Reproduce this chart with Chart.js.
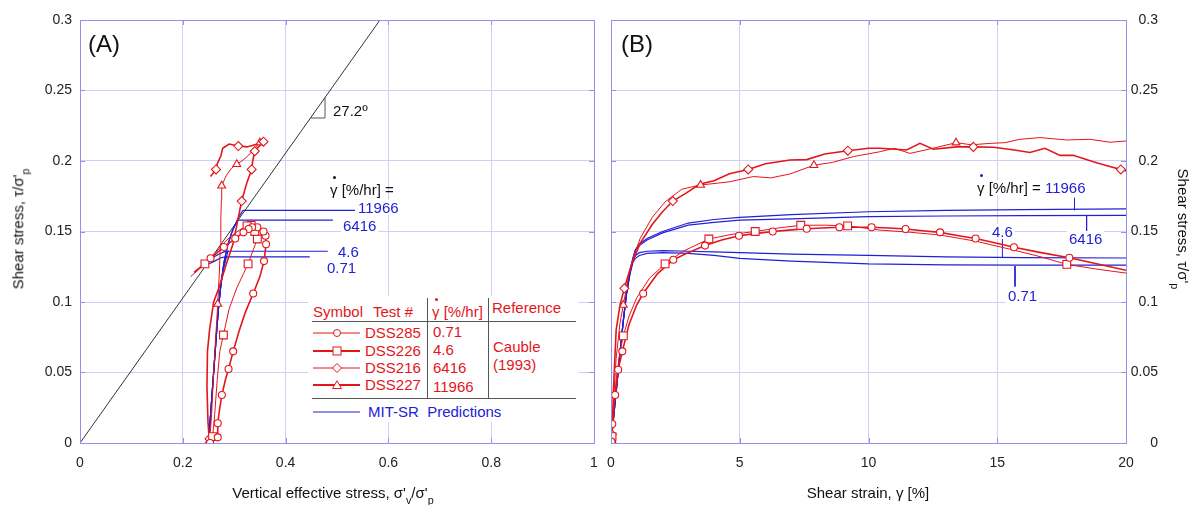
<!DOCTYPE html>
<html>
<head>
<meta charset="utf-8">
<script src="https://cdn.jsdelivr.net/npm/chart.js@4.4.1/dist/chart.umd.min.js"></script>
<style>
body{margin:0;background:#fff;width:1192px;height:505px;overflow:hidden;position:relative;font-family:"Liberation Sans",Arial,sans-serif;}
.box{position:absolute;top:0;height:505px;}
.t{position:absolute;white-space:nowrap;font-size:15px;line-height:15px;}
.w{background:#fff;padding:0 2px;}
.red{color:#e3161c}
.blue{color:#2121d4}
.blk{color:#111}
.gd{position:relative;display:inline-block;}
.gd i{position:absolute;left:50%;margin-left:-1px;top:-6px;width:3px;height:3px;border-radius:50%;}
sub{font-size:0.72em;vertical-align:-0.6em;line-height:0;}
.ttl{position:absolute;white-space:nowrap;font-size:15px;line-height:15px;color:#111;}
.hl{position:absolute;height:1px;background:#555;}
.vl{position:absolute;width:1px;background:#555;}
#legend{position:absolute;left:308px;top:296px;width:270px;height:126px;background:#fff;}
#legend svg{position:absolute;left:5px;}
</style>
</head>
<body>
<div class="box" style="left:0;width:602px"><canvas id="chartA" width="602" height="505"></canvas></div>
<div class="box" style="left:602px;width:590px"><canvas id="chartB" width="590" height="505"></canvas></div>

<!-- panel A annotations -->
<div class="t blk" style="left:88px;top:32px;font-size:24px;line-height:24px">(A)</div>
<div class="t blk" style="left:333px;top:103px">27.2º</div>
<div class="t blk" style="left:330px;top:182px"><span class="gd">γ<i style="background:#111"></i></span> [%/hr] =</div>
<div class="t blue w" style="left:356px;top:200px">11966</div>
<div class="t blue w" style="left:341px;top:218px">6416</div>
<div class="t blue w" style="left:336px;top:244px">4.6</div>
<div class="t blue w" style="left:325px;top:260px">0.71</div>

<div id="legend">
  <div class="hl" style="left:4px;top:25px;width:264px"></div>
  <div class="hl" style="left:4px;top:102px;width:264px"></div>
  <div class="vl" style="left:119px;top:2px;height:100px"></div>
  <div class="vl" style="left:180px;top:2px;height:100px"></div>
  <div class="t red" style="left:5px;top:8px">Symbol</div>
  <div class="t red" style="left:65px;top:8px">Test #</div>
  <div class="t red" style="left:124px;top:8px"><span class="gd">γ<i style="background:#e3161c"></i></span> [%/hr]</div>
  <div class="t red" style="left:184px;top:4px">Reference</div>
  <svg width="50" height="10" style="top:32px"><line x1="0" y1="5" x2="47" y2="5" stroke="#e3161c" stroke-width="1"/><circle cx="24" cy="5" r="3.5" fill="#fff" stroke="#e3161c"/></svg>
  <svg width="50" height="10" style="top:50px"><line x1="0" y1="5" x2="47" y2="5" stroke="#e3161c" stroke-width="1.8"/><rect x="20" y="1" width="8" height="8" fill="#fff" stroke="#e3161c"/></svg>
  <svg width="50" height="10" style="top:67px"><line x1="0" y1="5" x2="47" y2="5" stroke="#e3161c" stroke-width="1"/><polygon points="24,0.5 28.5,5 24,9.5 19.5,5" fill="#fff" stroke="#e3161c"/></svg>
  <svg width="50" height="10" style="top:84px"><line x1="0" y1="5" x2="47" y2="5" stroke="#e3161c" stroke-width="1.8"/><polygon points="24,0.8 28.5,8.5 19.5,8.5" fill="#fff" stroke="#e3161c"/></svg>
  <div class="t red" style="left:57px;top:29px">DSS285</div>
  <div class="t red" style="left:57px;top:47px">DSS226</div>
  <div class="t red" style="left:57px;top:64px">DSS216</div>
  <div class="t red" style="left:57px;top:81px">DSS227</div>
  <div class="t red" style="left:125px;top:28px">0.71</div>
  <div class="t red" style="left:125px;top:46px">4.6</div>
  <div class="t red" style="left:125px;top:64px">6416</div>
  <div class="t red" style="left:125px;top:83px">11966</div>
  <div class="t red" style="left:185px;top:43px">Cauble</div>
  <div class="t red" style="left:185px;top:61px">(1993)</div>
  <svg width="50" height="10" style="top:111px"><line x1="0" y1="5" x2="47" y2="5" stroke="#2121d4" stroke-width="1.2"/></svg>
  <div class="t blue" style="left:60px;top:108px">MIT-SR&nbsp; Predictions</div>
</div>

<!-- panel B annotations -->
<div class="t blk" style="left:621px;top:32px;font-size:24px;line-height:24px">(B)</div>
<div class="t blk w" style="left:975px;top:180px"><span class="gd">γ<i style="background:#2121d4"></i></span> [%/hr] = <span class="blue">11966</span></div>
<div class="t blue w" style="left:1067px;top:231px">6416</div>
<div class="t blue w" style="left:990px;top:224px">4.6</div>
<div class="t blue w" style="left:1006px;top:288px">0.71</div>

<!-- axis titles -->
<div class="ttl" style="left:333px;top:485px;transform:translateX(-50%)">Vertical effective stress, σ'<sub>v</sub>/σ'<sub>p</sub></div>
<div class="ttl" style="left:868px;top:485px;transform:translateX(-50%)">Shear strain, γ [%]</div>
<div class="ttl" style="left:18px;top:229px;transform:translate(-50%,-50%) rotate(-90deg)">Shear stress, τ/σ'<sub>p</sub></div>
<div class="ttl" style="left:1183px;top:229px;transform:translate(-50%,-50%) rotate(90deg)">Shear stress, τ/σ'<sub>p</sub></div>

<script>
// tick values
var xTicksA = [0, 0.2, 0.4, 0.6, 0.8, 1];
var xTicksB = [0, 5, 10, 15, 20];
var yTicks = [0, 0.05, 0.1, 0.15, 0.2, 0.25, 0.3];

// ---------- panel A: stress paths (x = sigma'v/sigma'p, y = tau/sigma'p)
var failX = [0, 0.5836];
var failY = [0, 0.3];
var angleX = [0.4484, 0.4767, 0.4767];
var angleY = [0.2305, 0.2305, 0.245];

// DSS285, circles
var x285A = [0.253, 0.262, 0.268, 0.268, 0.272, 0.276, 0.283, 0.289, 0.298, 0.31, 0.322, 0.337, 0.35, 0.358, 0.362, 0.361, 0.357, 0.352, 0.345, 0.335, 0.328, 0.318, 0.302, 0.28, 0.254, 0.235, 0.222];
var y285A = [0, 0.002, 0.004, 0.014, 0.025, 0.034, 0.045, 0.0525, 0.065, 0.08, 0.093, 0.106, 0.118, 0.129, 0.141, 0.147, 0.15, 0.152, 0.153, 0.153, 0.1518, 0.1494, 0.145, 0.139, 0.131, 0.125, 0.121];
var m285Ax = [0.253, 0.268, 0.268, 0.276, 0.289, 0.298, 0.337, 0.358, 0.362, 0.361, 0.357, 0.345, 0.335, 0.328, 0.318, 0.302, 0.28, 0.254];
var m285Ay = [0, 0.004, 0.014, 0.034, 0.0525, 0.065, 0.106, 0.129, 0.141, 0.147, 0.15, 0.153, 0.153, 0.1518, 0.1494, 0.145, 0.139, 0.131];
// DSS226, squares
var x226A = [0.255, 0.258, 0.262, 0.267, 0.272, 0.279, 0.29, 0.305, 0.318, 0.327, 0.337, 0.345, 0.347, 0.34, 0.333, 0.325, 0.31, 0.295, 0.28, 0.262, 0.243, 0.228, 0.215];
var y226A = [0, 0.0045, 0.02, 0.045, 0.065, 0.0766, 0.095, 0.11, 0.12, 0.127, 0.137, 0.1447, 0.148, 0.15, 0.1544, 0.154, 0.151, 0.147, 0.142, 0.134, 0.127, 0.122, 0.118];
var m226Ax = [0.258, 0.279, 0.327, 0.345, 0.34, 0.333, 0.325, 0.243];
var m226Ay = [0.0045, 0.0766, 0.127, 0.1447, 0.15, 0.1544, 0.154, 0.127];
// DSS216, diamonds
var x216A = [0.252, 0.249, 0.247, 0.248, 0.252, 0.26, 0.27, 0.283, 0.298, 0.3145, 0.325, 0.334, 0.336, 0.34, 0.35, 0.357, 0.345, 0.325, 0.308, 0.29, 0.2775, 0.274, 0.267, 0.2646, 0.254];
var y216A = [0, 0.015, 0.04, 0.065, 0.08, 0.1, 0.1097, 0.125, 0.1416, 0.1716, 0.185, 0.194, 0.2, 0.207, 0.211, 0.2137, 0.212, 0.21, 0.2106, 0.212, 0.209, 0.2035, 0.198, 0.194, 0.189];
var m216Ax = [0.252, 0.3145, 0.334, 0.34, 0.357, 0.308, 0.2646];
var m216Ay = [0.003, 0.1716, 0.194, 0.207, 0.2137, 0.2106, 0.194];
// DSS227, triangles
var x227A = [0.252, 0.256, 0.26, 0.264, 0.268, 0.271, 0.273, 0.274, 0.275, 0.2757, 0.285, 0.295, 0.305, 0.315, 0.325, 0.335, 0.345, 0.35, 0.355];
var y227A = [0, 0.02, 0.05, 0.075, 0.0986, 0.12, 0.14, 0.16, 0.172, 0.1825, 0.19, 0.195, 0.1977, 0.2, 0.203, 0.207, 0.211, 0.213, 0.2142];
var m227Ax = [0.252, 0.268, 0.2757, 0.305, 0.35];
var m227Ay = [0.002, 0.0986, 0.1825, 0.1977, 0.213];

// MIT-SR predictions, panel A
var p11966Ax = [0.25, 0.254, 0.258, 0.262, 0.266, 0.27, 0.274, 0.28, 0.288, 0.297, 0.307, 0.317];
var p11966Ay = [0, 0.02, 0.04, 0.06, 0.08, 0.098, 0.112, 0.128, 0.141, 0.151, 0.159, 0.165];
var p6416Ax = [0.25, 0.254, 0.258, 0.262, 0.266, 0.27, 0.274, 0.28, 0.287, 0.294, 0.301, 0.307];
var p6416Ay = [0, 0.02, 0.04, 0.06, 0.08, 0.098, 0.112, 0.128, 0.14, 0.148, 0.154, 0.158];
var p46Ax = [0.25, 0.254, 0.258, 0.262, 0.266, 0.27, 0.274, 0.279, 0.284, 0.288, 0.28, 0.268, 0.256];
var p46Ay = [0, 0.02, 0.04, 0.06, 0.08, 0.098, 0.112, 0.124, 0.131, 0.136, 0.1355, 0.1335, 0.131];
var p071Ax = [0.25, 0.254, 0.258, 0.262, 0.266, 0.27, 0.274, 0.278, 0.282, 0.284, 0.275, 0.262, 0.25, 0.244];
var p071Ay = [0, 0.02, 0.04, 0.06, 0.08, 0.098, 0.112, 0.122, 0.128, 0.132, 0.1315, 0.129, 0.127, 0.1262];
// label leaders, panel A
var lead11966Ax = [0.317, 0.535], lead11966Ay = [0.165, 0.165];
var lead6416Ax = [0.307, 0.492], lead6416Ay = [0.158, 0.158];
var lead46Ax = [0.288, 0.482], lead46Ay = [0.136, 0.136];
var lead071Ax = [0.284, 0.447], lead071Ay = [0.132, 0.132];

// ---------- panel B: shear strain [%] vs tau/sigma'p
var x285B = [0, 0.03, 0.05, 0.1, 0.16, 0.28, 0.44, 0.7, 1.0, 1.25, 1.8, 2.42, 3.0, 3.65, 4.3, 4.97, 5.6, 6.28, 6.9, 7.6, 8.2, 8.87, 9.5, 10.12, 10.8, 11.44, 12.1, 12.78, 13.5, 14.16, 14.9, 15.65, 16.7, 17.8, 18.9, 20.0];
var y285B = [0, 0.002, 0.0135, 0.025, 0.034, 0.052, 0.065, 0.084, 0.098, 0.106, 0.12, 0.13, 0.135, 0.14, 0.144, 0.147, 0.1485, 0.15, 0.151, 0.152, 0.1525, 0.153, 0.153, 0.153, 0.1525, 0.1518, 0.1505, 0.1494, 0.147, 0.145, 0.142, 0.1388, 0.135, 0.1314, 0.127, 0.1225];
var m285Bx = [0.02, 0.05, 0.16, 0.28, 0.44, 1.25, 2.42, 3.65, 4.97, 6.28, 7.6, 8.87, 10.12, 11.44, 12.78, 14.16, 15.65, 17.8];
var m285By = [0.001, 0.0135, 0.034, 0.052, 0.065, 0.106, 0.13, 0.14, 0.147, 0.15, 0.152, 0.153, 0.153, 0.1518, 0.1494, 0.145, 0.1388, 0.1314];
var x226B = [0, 0.04, 0.1, 0.2, 0.35, 0.48, 0.7, 1.0, 1.5, 2.1, 2.8, 3.8, 4.7, 5.6, 6.5, 7.37, 8.3, 9.19, 10.45, 11.6, 12.78, 14.2, 15.6, 16.7, 17.7, 18.8, 20.0];
var y226B = [0, 0.0045, 0.02, 0.045, 0.065, 0.076, 0.09, 0.103, 0.117, 0.127, 0.136, 0.1447, 0.148, 0.15, 0.1525, 0.1544, 0.1545, 0.154, 0.151, 0.1495, 0.1475, 0.143, 0.137, 0.132, 0.1267, 0.1235, 0.1205];
var m226Bx = [0.02, 0.04, 0.48, 2.1, 3.8, 5.6, 7.37, 9.19, 17.7];
var m226By = [0.001, 0.0045, 0.076, 0.127, 0.1447, 0.15, 0.1544, 0.154, 0.1267];
var x216B = [0, 0.04, 0.1, 0.2, 0.35, 0.52, 0.8, 1.13, 1.6, 2.0, 2.4, 2.9, 3.46, 4.0, 4.6, 5.33, 6.0, 6.95, 7.6, 8.3, 9.2, 10.0, 10.45, 11.48, 12.0, 12.52, 13.42, 14.07, 14.85, 15.6, 16.27, 16.85, 17.44, 17.95, 18.73, 19.3, 20.0];
var y216B = [0, 0.003, 0.04, 0.08, 0.098, 0.1097, 0.127, 0.1416, 0.155, 0.164, 0.1716, 0.177, 0.1837, 0.186, 0.191, 0.194, 0.198, 0.2007, 0.201, 0.205, 0.2073, 0.209, 0.209, 0.2078, 0.2125, 0.2083, 0.21, 0.21, 0.2097, 0.208, 0.206, 0.209, 0.204, 0.204, 0.1995, 0.1965, 0.193];
var m216Bx = [0.03, 0.52, 2.4, 5.33, 9.2, 14.07, 19.8];
var m216By = [0.006, 0.1097, 0.1716, 0.194, 0.2073, 0.21, 0.194];
var x227B = [0, 0.04, 0.1, 0.2, 0.35, 0.48, 0.7, 0.9, 1.13, 1.6, 2.1, 2.75, 3.48, 4.0, 4.62, 5.53, 6.2, 6.95, 7.88, 8.6, 9.41, 10.45, 11.0, 11.61, 12.5, 13.4, 14.0, 14.72, 15.3, 15.88, 16.66, 17.7, 18.6, 19.38, 20.0];
var y227B = [0, 0.003, 0.03, 0.06, 0.085, 0.0979, 0.12, 0.133, 0.145, 0.16, 0.171, 0.18, 0.183, 0.184, 0.1853, 0.189, 0.188, 0.1908, 0.197, 0.199, 0.2031, 0.2066, 0.209, 0.2054, 0.209, 0.213, 0.2115, 0.2125, 0.213, 0.2154, 0.2166, 0.2149, 0.2154, 0.2133, 0.2142];
var m227Bx = [0.03, 0.48, 3.48, 7.88, 13.4];
var m227By = [0.002, 0.0979, 0.183, 0.197, 0.213];

// MIT-SR predictions, panel B (shared strain values)
var pxB = [0, 0.1, 0.22, 0.35, 0.48, 0.6, 0.74, 0.85, 0.95, 1.1, 1.4, 2.0, 3.0, 4.0, 5.0, 7.0, 10.0, 13.0, 16.0, 20.0];
var p11966B = [0, 0.018, 0.04, 0.064, 0.087, 0.106, 0.122, 0.131, 0.137, 0.141, 0.145, 0.15, 0.156, 0.1585, 0.16, 0.162, 0.164, 0.165, 0.1655, 0.166];
var p6416B = [0, 0.018, 0.04, 0.064, 0.087, 0.106, 0.122, 0.131, 0.137, 0.14, 0.144, 0.149, 0.1545, 0.1565, 0.158, 0.159, 0.1605, 0.161, 0.1613, 0.1615];
var p46B = [0, 0.018, 0.04, 0.064, 0.087, 0.106, 0.121, 0.129, 0.133, 0.135, 0.136, 0.1365, 0.136, 0.1355, 0.135, 0.134, 0.133, 0.132, 0.1315, 0.1312];
var p071B = [0, 0.018, 0.04, 0.064, 0.087, 0.105, 0.12, 0.128, 0.131, 0.133, 0.1345, 0.135, 0.1345, 0.133, 0.131, 0.129, 0.127, 0.1264, 0.1262, 0.1262];
// label leaders, panel B
var lead11966Bx = [18.0, 18.0], lead11966By = [0.165, 0.174];
var lead6416Bx = [18.47, 18.47], lead6416By = [0.161, 0.1487];
var lead46Bx = [15.2, 15.2], lead46By = [0.1314, 0.1463];
var lead071Bx = [15.69, 15.69], lead071By = [0.1255, 0.111];

var RED = "#e3161c";
var BLUE = "#2121d4";
var GRID = "#cfcff7";
var FRAME = "#9191ec";
var FONT = "'Liberation Sans', Arial, sans-serif";

function pts(xs, ys) {
  return xs.map(function (x, i) { return { x: x, y: ys[i] }; });
}
function line(xs, ys, color, w) {
  return { data: pts(xs, ys), showLine: true, borderColor: color, borderWidth: w, pointRadius: 0, fill: false, tension: 0 };
}
function marks(xs, ys, style, r) {
  return { data: pts(xs, ys), showLine: false, pointStyle: style, pointRadius: r,
    borderColor: RED, pointBorderColor: RED, pointBackgroundColor: "#fff", pointBorderWidth: 1.1 };
}

function xScale(min, max, ticks, dec) {
  return {
    type: "linear", min: min, max: max,
    afterBuildTicks: function (s) { s.ticks = ticks.map(function (v) { return { value: v }; }); },
    // fixed axis height, no extra side padding for the end labels
    afterFit: function (s) { s.height = 62; s.paddingLeft = 0; s.paddingRight = 0; },
    grid: { color: GRID, drawTicks: false },
    border: { display: false },
    ticks: { padding: 12, color: "#222", font: { size: 14, family: FONT }, maxRotation: 0, autoSkip: false,
      callback: function (v) { return String(+v.toFixed(dec)); } },
  };
}
function yScale(pos, w) {
  return {
    type: "linear", min: 0, max: 0.3, position: pos,
    afterBuildTicks: function (s) { s.ticks = yTicks.map(function (v) { return { value: v }; }); },
    afterFit: function (s) { s.width = w; s.paddingTop = 0; s.paddingBottom = 0; },
    grid: { color: GRID, drawTicks: false },
    border: { display: false },
    ticks: { padding: 8, crossAlign: pos === "right" ? "far" : "near", color: "#222",
      font: { size: 14, family: FONT }, autoSkip: false,
      callback: function (v) { return String(+v.toFixed(2)); } },
  };
}

// plot frame with small inner tick marks
var frame = {
  id: "frame",
  afterDatasetsDraw: function (chart) {
    var ctx = chart.ctx, a = chart.chartArea, sx = chart.scales.x, sy = chart.scales.y;
    ctx.save();
    ctx.strokeStyle = FRAME;
    ctx.lineWidth = 1;
    ctx.strokeRect(Math.round(a.left) + 0.5, Math.round(a.top) + 0.5, Math.round(a.width), Math.round(a.height));
    ctx.beginPath();
    sx.ticks.forEach(function (t) {
      var p = Math.round(sx.getPixelForValue(t.value)) + 0.5;
      ctx.moveTo(p, a.bottom); ctx.lineTo(p, a.bottom - 5);
      ctx.moveTo(p, a.top); ctx.lineTo(p, a.top + 5);
    });
    sy.ticks.forEach(function (t) {
      var p = Math.round(sy.getPixelForValue(t.value)) + 0.5;
      ctx.moveTo(a.left, p); ctx.lineTo(a.left + 5, p);
      ctx.moveTo(a.right, p); ctx.lineTo(a.right - 5, p);
    });
    ctx.stroke();
    ctx.restore();
  },
};

var common = {
  responsive: false,
  animation: false,
  events: [],
  plugins: { legend: { display: false }, tooltip: { enabled: false } },
};

new Chart(document.getElementById("chartA").getContext("2d"), {
  type: "scatter",
  data: {
    datasets: [
      marks(m285Ax, m285Ay, "circle", 3.5),
      marks(m226Ax, m226Ay, "rect", 5.5),
      marks(m216Ax, m216Ay, "rectRot", 4.5),
      marks(m227Ax, m227Ay, "triangle", 4.5),
      line(x285A, y285A, RED, 1.6),
      line(x226A, y226A, RED, 1),
      line(x216A, y216A, RED, 1.6),
      line(x227A, y227A, RED, 1),
      line(p11966Ax, p11966Ay, BLUE, 1.2),
      line(p6416Ax, p6416Ay, BLUE, 1.2),
      line(p46Ax, p46Ay, BLUE, 1.2),
      line(p071Ax, p071Ay, BLUE, 1.2),
      line(lead11966Ax, lead11966Ay, BLUE, 1.2),
      line(lead6416Ax, lead6416Ay, BLUE, 1.2),
      line(lead46Ax, lead46Ay, BLUE, 1.2),
      line(lead071Ax, lead071Ay, BLUE, 1.2),
      line(failX, failY, "#333", 1),
      line(angleX, angleY, "#555", 1),
    ],
  },
  options: Object.assign({}, common, {
    layout: { padding: { top: 20, right: 8, left: 0, bottom: 0 } },
    scales: { x: xScale(0, 1, xTicksA, 1), y: yScale("left", 80) },
  }),
  plugins: [frame],
});

new Chart(document.getElementById("chartB").getContext("2d"), {
  type: "scatter",
  data: {
    datasets: [
      marks(m285Bx, m285By, "circle", 3.5),
      marks(m226Bx, m226By, "rect", 5.5),
      marks(m216Bx, m216By, "rectRot", 4.5),
      marks(m227Bx, m227By, "triangle", 4.5),
      line(x285B, y285B, RED, 1.6),
      line(x226B, y226B, RED, 1),
      line(x216B, y216B, RED, 1.6),
      line(x227B, y227B, RED, 1),
      line(pxB, p11966B, BLUE, 1.2),
      line(pxB, p6416B, BLUE, 1.2),
      line(pxB, p46B, BLUE, 1.2),
      line(pxB, p071B, BLUE, 1.2),
      line(lead11966Bx, lead11966By, BLUE, 1),
      line(lead6416Bx, lead6416By, BLUE, 1),
      line(lead46Bx, lead46By, BLUE, 1),
      line(lead071Bx, lead071By, BLUE, 1),
    ],
  },
  options: Object.assign({}, common, {
    layout: { padding: { top: 20, right: 34, left: 9, bottom: 0 } },
    scales: { x: xScale(0, 20, xTicksB, 0), y: yScale("right", 32) },
  }),
  plugins: [frame],
});
</script>
</body>
</html>
